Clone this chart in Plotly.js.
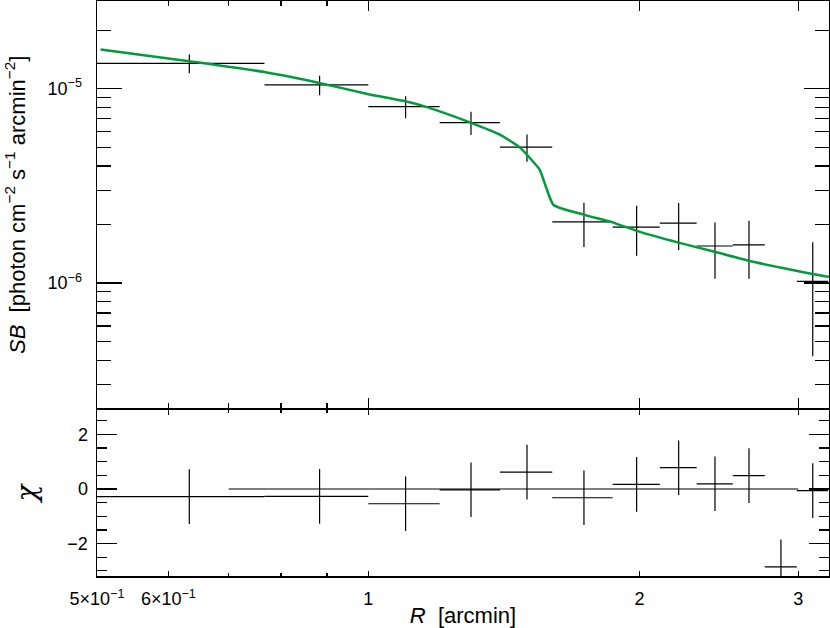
<!DOCTYPE html>
<html>
<head>
<meta charset="utf-8">
<script src="https://cdn.plot.ly/plotly-3.0.1.min.js"></script>
<style>
  html, body { margin: 0; padding: 0; background: #fff; }
  #plot { width: 830px; height: 628px; }
</style>
</head>
<body>
<div id="plot"></div>
<script>
// radial bins [arcmin]
const binCenter = [0.633, 0.883, 1.1, 1.3, 1.5, 1.735, 1.985, 2.21, 2.425, 2.645, 2.87, 3.113]
const binLow    = [0.5, 0.767, 1.0, 1.2, 1.4, 1.6, 1.867, 2.106, 2.314, 2.538, 2.754, 2.989]
const binHigh   = [0.767, 1.0, 1.2, 1.4, 1.6, 1.867, 2.106, 2.314, 2.538, 2.754, 2.989, 3.237]

// surface brightness [photon cm^-2 s^-1 arcmin^-2]
const sb    = [1.35e-5, 1.045e-5, 8.09e-6, 6.69e-6, 5.0e-6, 2.06e-6, 1.94e-6, 2.03e-6, 1.55e-6, 1.57e-6, -8e-8, 1.02e-6]
const sbErr = [1.5e-6, 1.2e-6, 1.05e-6, 0.92e-6, 0.8e-6, 0.53e-6, 0.56e-6, 0.55e-6, 0.5e-6, 0.52e-6, 0.45e-6, 0.6e-6]

// residuals
const chi    = [-0.28, -0.27, -0.54, -0.03, 0.62, -0.32, 0.17, 0.78, 0.19, 0.49, -2.85, -0.06]
const chiErr = [1, 1, 1, 1, 1, 1, 1, 1, 1, 1, 1, 1]

// model curve
const modelR  = [0.5046, 0.6328, 0.7667, 0.8822, 0.9975, 1.0993, 1.1591, 1.3005, 1.398, 1.4718,
                 1.5099, 1.5488, 1.5754, 1.6052, 1.7378, 1.8666, 1.9861, 2.2044, 2.4235, 2.6446,
                 2.884, 3.2113, 3.2443]
const modelSB = [1.590e-5, 1.384e-5, 1.218e-5, 1.070e-5, 9.39e-6, 8.61e-6, 8.06e-6, 6.67e-6, 5.81e-6, 5.00e-6,
                 4.41e-6, 3.84e-6, 3.10e-6, 2.52e-6, 2.24e-6, 2.05e-6, 1.853e-6, 1.617e-6, 1.447e-6, 1.301e-6,
                 1.193e-6, 1.082e-6, 1.075e-6]

// zero reference line in the residual panel
const zeroR = [0.70, 3.0]
const zeroChi = [0, 0]

// tick labels
const xTickVals = [0.5, 0.6, 1, 2, 3]
const xTickText = ['5×10<sup>−1</sup>', '6×10<sup>−1</sup>', '1', '2', '3']
const sbTickVals = [1e-6, 1e-5]
const sbTickText = ['10<sup>−6</sup>', '10<sup>−5</sup>']

const errPlus = binCenter.map((c, i) => binHigh[i] - c)
const errMinus = binCenter.map((c, i) => c - binLow[i])

const black = '#000000'
const model_color = '#009c3b'

function errX() {
    return {type: 'data', symmetric: false, array: errPlus, arrayminus: errMinus, width: 0, thickness: 1.2, color: black}
}

let data = []
data.push({type: 'scatter', mode: 'markers', x: binCenter, y: sb, xaxis: 'x2', yaxis: 'y2',
           marker: {size: 1, color: 'rgba(0,0,0,0)'}, hoverinfo: 'none',
           error_x: errX(),
           error_y: {type: 'data', array: sbErr, width: 0, thickness: 1.2, color: black}})
data.push({type: 'scatter', mode: 'lines', x: modelR, y: modelSB, xaxis: 'x2', yaxis: 'y2',
           line: {color: model_color, width: 2.5, shape: 'spline', smoothing: 0.5}, hoverinfo: 'none'})

data.push({type: 'scatter', mode: 'lines', x: zeroR, y: zeroChi, xaxis: 'x', yaxis: 'y',
           line: {color: '#555555', width: 1.5}, hoverinfo: 'none'})
data.push({type: 'scatter', mode: 'markers', x: binCenter, y: chi, xaxis: 'x', yaxis: 'y',
           marker: {size: 1, color: 'rgba(0,0,0,0)'}, hoverinfo: 'none',
           error_x: errX(),
           error_y: {type: 'data', array: chiErr, width: 0, thickness: 1.2, color: black}})

const xRange = [Math.log10(0.5), Math.log10(3.245)]
const axis_common = {showline: true, linecolor: black, linewidth: 1.5, mirror: 'allticks',
                     ticks: 'inside', tickcolor: black, tickwidth: 1.2, showgrid: false, zeroline: false}

// axis lines sit just outside each panel, so leave a gap of one line width
// between the panels and the two boundary lines land on the same pixels
const plot_height = 628 - 1 - 52
const split = 0.2887
const gap = 1.5 / plot_height

const layout = {
    width: 830, height: 628,
    margin: {l: 97, r: 1, t: 1, b: 52},
    paper_bgcolor: 'white', plot_bgcolor: 'rgba(0,0,0,0)',
    showlegend: false,
    font: {family: 'Liberation Sans, Arial, sans-serif', size: 18, color: black},
    xaxis: Object.assign({}, axis_common, {
        type: 'log', range: xRange, anchor: 'y',
        tickmode: 'array', tickvals: xTickVals, ticktext: xTickText, ticklen: 5,
        ticklabelstandoff: 6,
        minor: {tickvals: [0.7, 0.8, 0.9], ticklen: 3, ticks: 'inside', tickcolor: black, tickwidth: 1.2},
        title: {text: '<i>R</i>  [arcmin]', standoff: 4}
    }),
    yaxis: Object.assign({}, axis_common, {
        domain: [0, split], range: [-3.187, 2.894], anchor: 'x',
        tickmode: 'array', tickvals: [-2, 0, 2], ticklen: 20,
        ticklabelstandoff: 4,
        minor: {tickvals: [-3, -2.5, -1.5, -1, -0.5, 0.5, 1, 1.5, 2.5], ticklen: 10, ticks: 'inside', tickcolor: black, tickwidth: 1.2},
        title: {text: '<i>χ</i>', font: {family: 'DejaVu Serif', size: 28}, standoff: 22}
    }),
    xaxis2: Object.assign({}, axis_common, {
        type: 'log', range: xRange, anchor: 'y2', matches: 'x',
        tickmode: 'array', tickvals: [1, 2, 3], ticklen: 10, showticklabels: false,
        minor: {tickvals: [0.6, 0.7, 0.8, 0.9], ticklen: 5, ticks: 'inside', tickcolor: black, tickwidth: 1.2}
    }),
    yaxis2: Object.assign({}, axis_common, {
        type: 'log', domain: [split + gap, 1], range: [-6.646, -4.549], anchor: 'x2',
        tickmode: 'array', tickvals: sbTickVals, ticktext: sbTickText, ticklen: 25,
        ticklabelstandoff: 10,
        minor: {tickvals: [3e-7, 4e-7, 5e-7, 6e-7, 7e-7, 8e-7, 9e-7, 2e-6, 3e-6, 4e-6, 5e-6, 6e-6, 7e-6, 8e-6, 9e-6, 2e-5],
                ticklen: 14, ticks: 'inside', tickcolor: black, tickwidth: 1.2},
        title: {text: '<i>SB</i>  [photon cm<sup>−2</sup> s<sup>−1</sup> arcmin<sup>−2</sup>]', standoff: 16}
    })
}

Plotly.newPlot(document.getElementById('plot'), data, layout, {displayModeBar: false, staticPlot: true})
</script>
</body>
</html>
